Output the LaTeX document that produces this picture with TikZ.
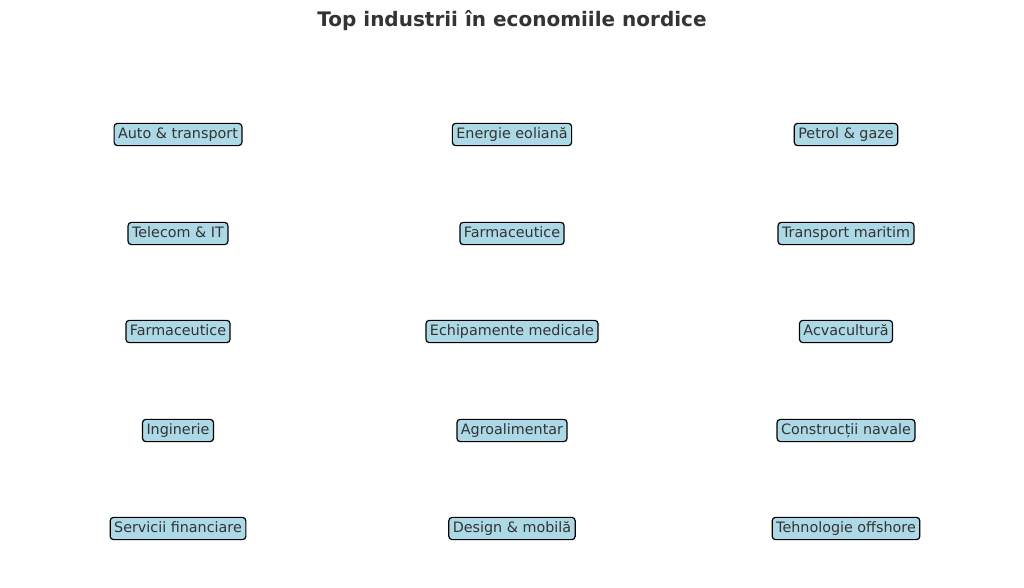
\documentclass[tikz,border=0pt]{standalone}
\usepackage{fontspec}
\setmainfont{DejaVu Sans}
\definecolor{boxblue}{HTML}{ADD8E6}
\definecolor{textgray}{HTML}{333333}

\begin{document}
\begin{tikzpicture}[x=0.75pt, y=-0.75pt,
                    industry/.style={draw=black, line width=0.9pt, fill=boxblue, rounded corners=2.5pt,
                                     text=textgray, font=\fontsize{10.75pt}{12pt}\selectfont,
                                     inner xsep=3pt, inner ysep=3.2pt, text height=8pt, text depth=2.3pt},
                    heading/.style={text=textgray, font=\fontsize{15pt}{17pt}\selectfont\bfseries}]
                    \useasboundingbox (0, 0) rectangle (1024, 588);

                    \node[heading] (title) at (512, 21) {Top industrii în economiile nordice};

                    % prima coloana
                    \node[industry] (auto)     at (178, 134.5) {Auto \& transport};
                    \node[industry] (telecom)  at (178, 233.5) {Telecom \& IT};
                    \node[industry] (farmaA)   at (178, 331.5) {Farmaceutice};
                    \node[industry] (ing)      at (178, 430.5) {Inginerie};
                    \node[industry] (finante)  at (178, 528.5) {Servicii financiare};

                    % a doua coloana
                    \node[industry] (eolian)   at (512, 134.5) {Energie eoliană};
                    \node[industry] (farmaB)   at (512, 233.5) {Farmaceutice};
                    \node[industry] (medical)  at (512, 331.5) {Echipamente medicale};
                    \node[industry] (agro)     at (512, 430.5) {Agroalimentar};
                    \node[industry] (design)   at (512, 528.5) {Design \& mobilă};

                    % a treia coloana
                    \node[industry] (petrol)   at (846, 134.5) {Petrol \& gaze};
                    \node[industry] (maritim)  at (846, 233.5) {Transport maritim};
                    \node[industry] (acva)     at (846, 331.5) {Acvacultură};
                    \node[industry] (navale)   at (846, 430.5) {Construcții navale};
                    \node[industry] (offshore) at (846, 528.5) {Tehnologie offshore};
                \end{tikzpicture}
\end{document}
